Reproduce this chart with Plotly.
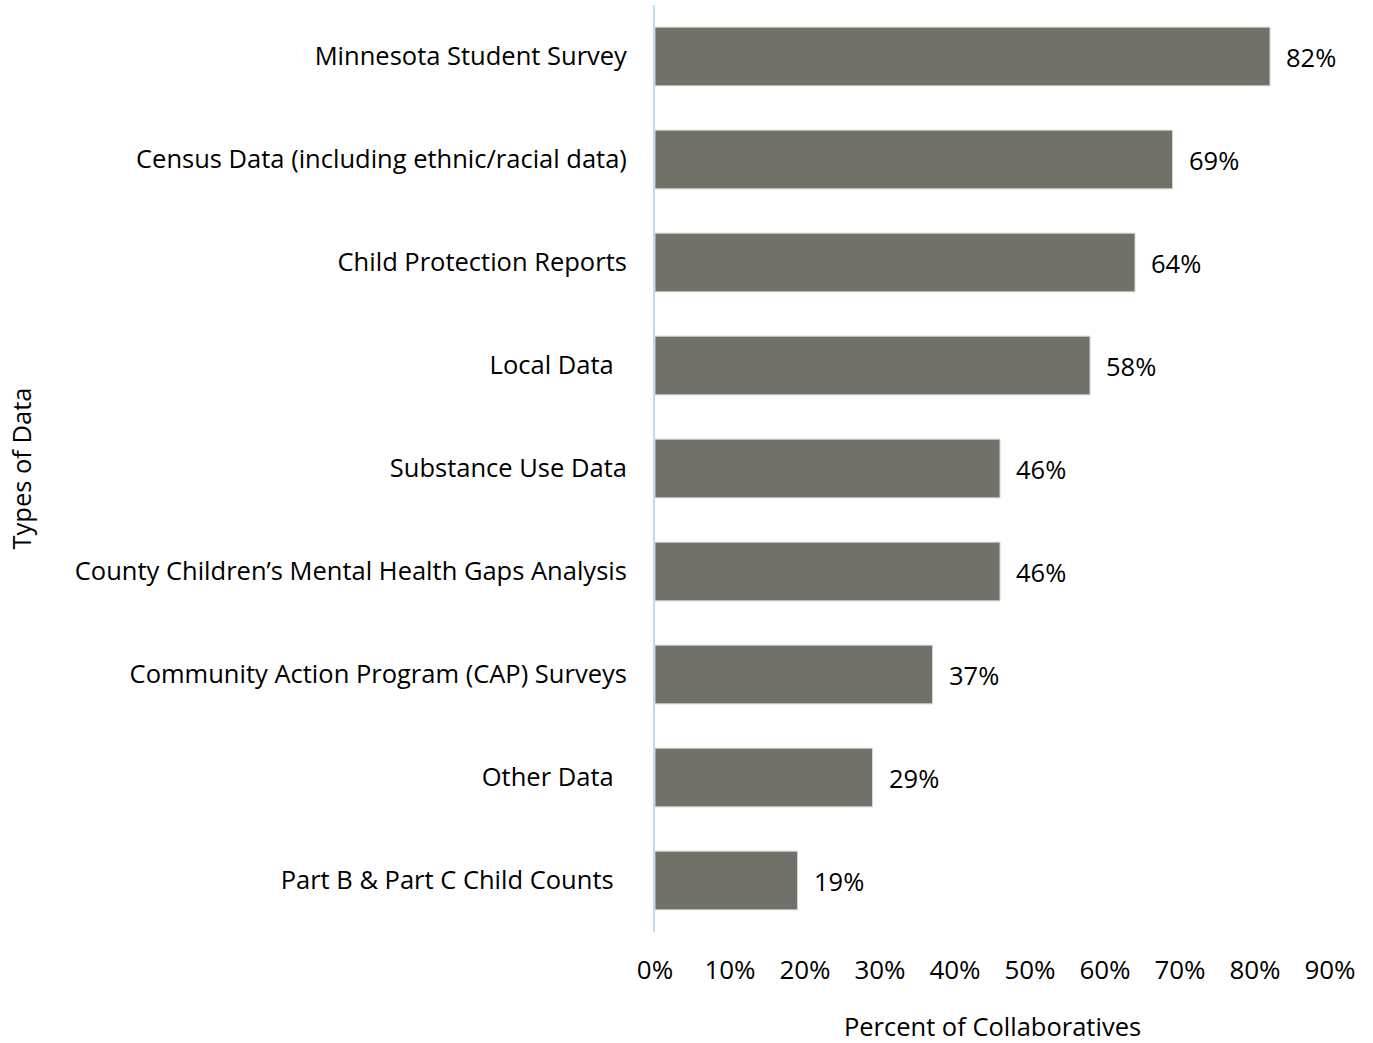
import plotly.graph_objects as go

# Types of data used by collaboratives (top to bottom as drawn)
categories = [
    "Minnesota Student Survey",
    "Census Data (including ethnic/racial data)",
    "Child Protection Reports",
    "Local Data\u00a0\u00a0",
    "Substance Use Data",
    "County Children\u2019s Mental Health Gaps Analysis",
    "Community Action Program (CAP) Surveys",
    "Other Data\u00a0\u00a0",
    "Part B & Part C Child Counts\u00a0\u00a0",
]
percents = [82, 69, 64, 58, 46, 46, 37, 29, 19]
tick_values = [0, 10, 20, 30, 40, 50, 60, 70, 80, 90]
tick_labels = [f"{v}%" for v in tick_values]

FONT = "Open Sans"
SIZE = 25.5
BAR = "#717169"

fig = go.Figure()
fig.add_trace(go.Bar(
    y=categories,
    x=percents,
    orientation="h",
    width=0.57,
    marker=dict(color=BAR, line=dict(color="#d4d4d0", width=1)),
    hoverinfo="skip",
))

# value labels just right of each bar
for cat, val in zip(categories, percents):
    fig.add_annotation(
        x=val, y=cat, text=f"{val}%", showarrow=False,
        xanchor="left", xshift=14, yanchor="middle",
        font=dict(family=FONT, size=SIZE, color="#000000"),
    )

fig.update_layout(
    width=1373, height=1043,
    margin=dict(l=655, r=43, t=5, b=111),
    plot_bgcolor="white", paper_bgcolor="white",
    showlegend=False,
    font=dict(family=FONT, size=SIZE, color="#000000"),
    xaxis=dict(
        range=[0, 90],
        tickvals=tick_values, ticktext=tick_labels,
        tickfont=dict(size=26),
        showgrid=False, zeroline=False, showline=False,
        ticks="", ticklabelstandoff=20,
        title=dict(text="Percent of Collaboratives", standoff=34,
                   font=dict(family=FONT, size=SIZE)),
    ),
    yaxis=dict(
        categoryorder="array", categoryarray=categories[::-1],
        showgrid=False, zeroline=False,
        showline=True, linecolor="#bcdcf4", linewidth=2,
        ticks="", ticklabelstandoff=21,
        title=dict(text="Types of Data", standoff=36,
                   font=dict(family=FONT, size=SIZE)),
    ),
)

fig.write_html("out.html")
